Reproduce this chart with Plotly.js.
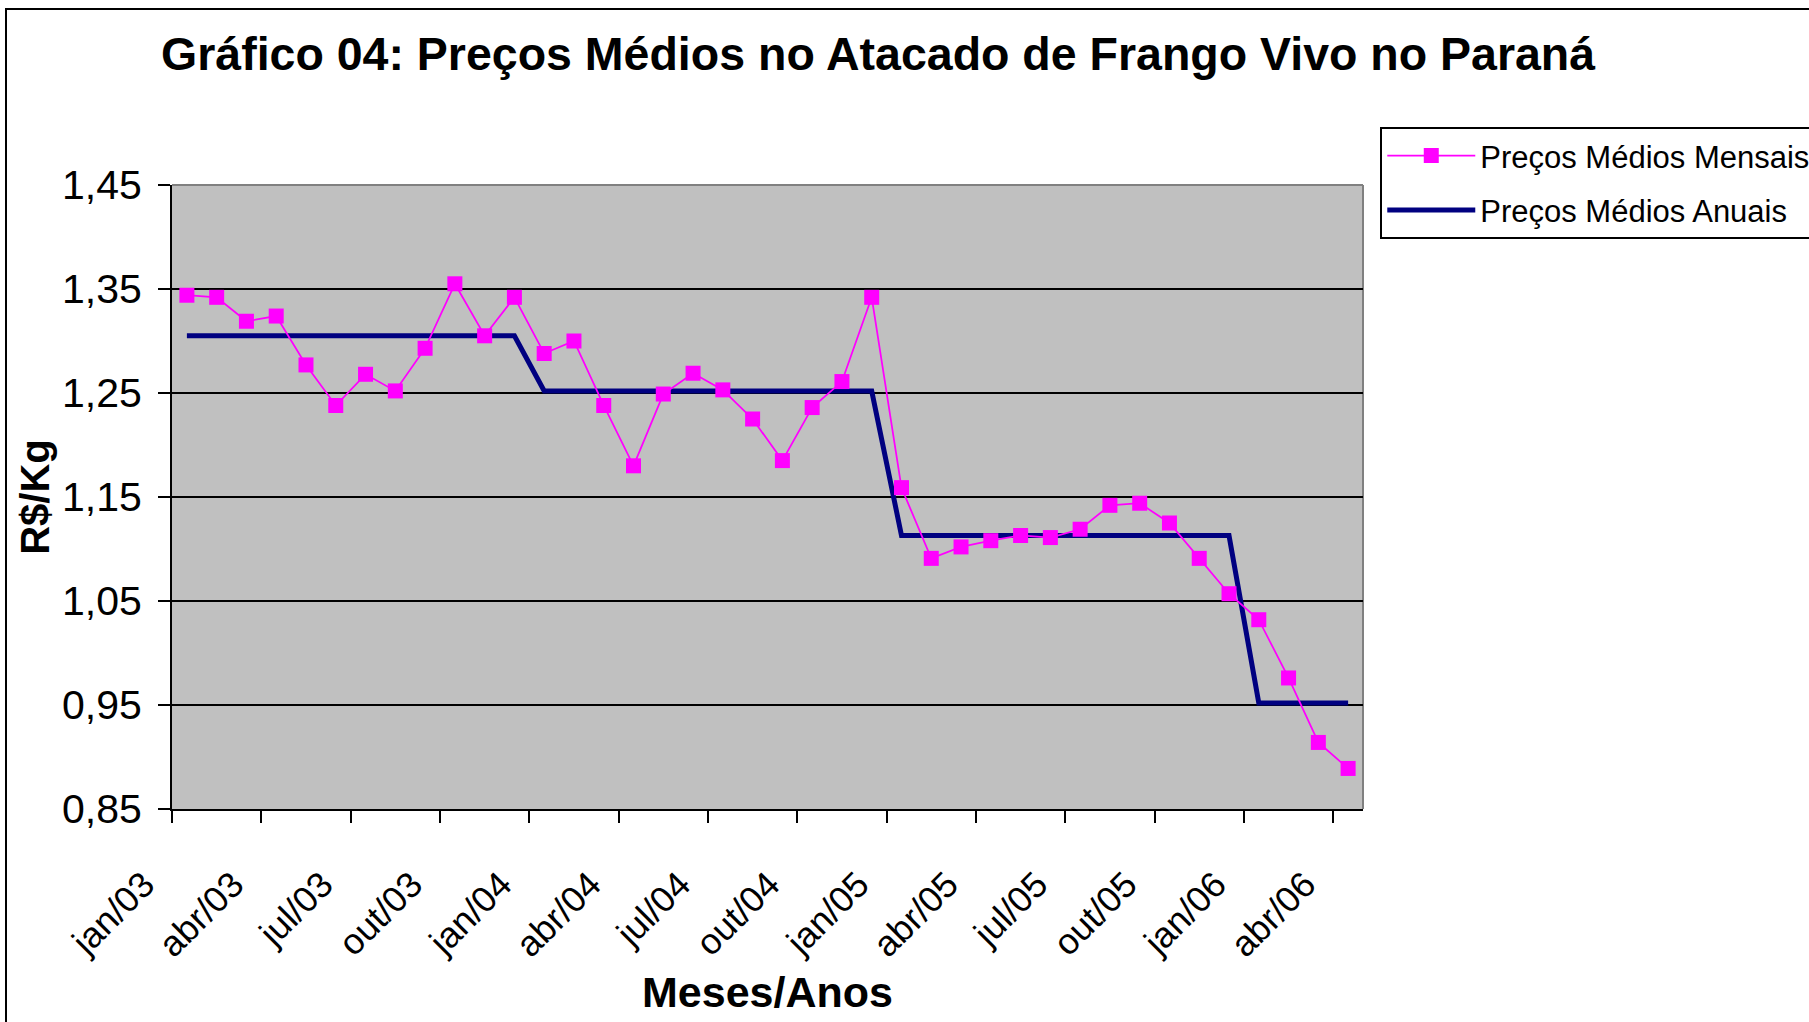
<!DOCTYPE html>
<html>
<head>
<meta charset="utf-8">
<script src="https://cdn.plot.ly/plotly-3.0.1.min.js"></script>
<style>
html,body{margin:0;padding:0;background:#fff;overflow:hidden;}
#grafico{width:1809px;height:1022px;}
#moldura{position:absolute;left:5px;top:8px;width:2000px;height:1200px;border-left:2px solid #000;border-top:2px solid #000;pointer-events:none;}
</style>
</head>
<body>
<div id="grafico"></div>
<div id="moldura"></div>
<script>

/* ==========================================
   DADOS
========================================== */

const meses = ["jan","fev","mar","abr","mai","jun","jul","ago","set","out","nov","dez"];

const anos = ["03","04","05","06"];

const precos2003 = [1.344,1.342,1.319,1.324,1.277,1.238,1.268,1.252,1.293,1.355,1.305,1.342];

const precos2004 = [1.288,1.300,1.238,1.180,1.249,1.269,1.253,1.225,1.185,1.236,1.261,1.342];

const precos2005 = [1.159,1.091,1.102,1.108,1.113,1.111,1.119,1.142,1.144,1.125,1.091,1.057];

const precos2006 = [1.032,0.976,0.914,0.889];

const mediasAnuais = [1.305,1.252,1.113,0.952];


/* ==========================================
   MONTAGEM DAS SERIES
========================================== */

const precosPorAno = [precos2003,precos2004,precos2005,precos2006];

let rotulos = [];
let mensais = [];
let anuais = [];

precosPorAno.forEach((lista,i)=>{

    lista.forEach((valor,m)=>{

        rotulos.push(meses[m]+"/"+anos[i]);

        mensais.push(valor);

        anuais.push(mediasAnuais[i]);

    });

});


const fonte = "Liberation Sans, Arial, sans-serif";


/* ==========================================
   GRAFICO
========================================== */

Plotly.newPlot(

    "grafico",

    [

        {
            x:rotulos,
            y:anuais,
            mode:"lines",
            name:"Preços Médios Anuais",
            line:{color:"#000080",width:5},
            legendgroup:"b",
            legendrank:2
        },

        {
            x:rotulos,
            y:mensais,
            mode:"lines+markers",
            name:"Preços Médios Mensais",
            line:{color:"#FF00FF",width:1.75},
            marker:{symbol:"square",size:15,color:"#FF00FF",line:{width:0}},
            legendgroup:"a",
            legendrank:1
        }

    ],

    {

        width:1809,
        height:1022,

        paper_bgcolor:"#ffffff",
        plot_bgcolor:"#C0C0C0",

        separators:",.",

        font:{family:fonte,color:"#000"},

        margin:{l:172,r:446,t:185,b:213,autoexpand:false},

        title:{
            text:"Gráfico 04: Preços Médios no Atacado de Frango Vivo no Paraná",
            font:{family:fonte,size:46.5,weight:"bold",color:"#000"},
            xref:"container",
            yref:"container",
            x:0.4854,
            xanchor:"center",
            y:0.947,
            yanchor:"middle"
        },

        xaxis:{
            type:"category",
            range:[-0.5,39.5],
            tickson:"boundaries",
            dtick:3,
            tick0:0,
            ticks:"outside",
            ticklen:12,
            tickwidth:2,
            tickcolor:"#000",
            showline:true,
            linecolor:"#000",
            linewidth:2,
            showgrid:false,
            tickangle:-45,
            ticklabelshift:-43,
            ticklabelstandoff:38,
            tickfont:{family:fonte,size:36,color:"#000"},
            title:{
                text:"Meses/Anos",
                font:{family:fonte,size:43,weight:"bold",color:"#000"},
                standoff:13
            },
            fixedrange:true
        },

        yaxis:{
            range:[0.85,1.45],
            tick0:0.85,
            dtick:0.1,
            tickformat:".2f",
            ticks:"outside",
            ticklen:12,
            tickwidth:2,
            tickcolor:"#000",
            showline:true,
            linecolor:"#000",
            linewidth:2,
            showgrid:true,
            gridcolor:"#000",
            gridwidth:2,
            zeroline:false,
            ticklabelstandoff:8,
            tickfont:{family:fonte,size:41,color:"#000"},
            title:{
                text:"R$/Kg",
                font:{family:fonte,size:40,weight:"bold",color:"#000"},
                standoff:0
            },
            fixedrange:true
        },

        shapes:[
            {type:"line",xref:"paper",yref:"paper",x0:0,x1:1,y0:1,y1:1,line:{color:"#808080",width:2},layer:"below"},
            {type:"line",xref:"paper",yref:"paper",x0:1,x1:1,y0:0,y1:1,line:{color:"#808080",width:2},layer:"below"}
        ],

        showlegend:true,

        legend:{
            x:1.0145,
            y:1.093,
            xanchor:"left",
            yanchor:"top",
            traceorder:"grouped",
            tracegroupgap:11,
            itemwidth:88,
            bgcolor:"#ffffff",
            bordercolor:"#000",
            borderwidth:2,
            font:{family:fonte,size:31,color:"#000"}
        }

    },

    {
        staticPlot:true,
        displayModeBar:false
    }

);

</script>
</body>
</html>
